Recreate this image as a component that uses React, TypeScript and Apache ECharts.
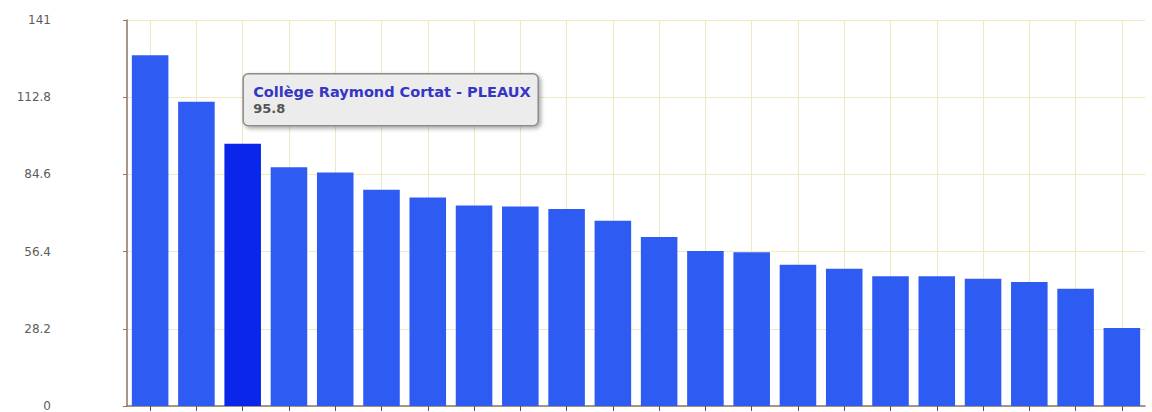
import React, { useEffect, useRef } from "react";
import * as echarts from "echarts";

const categories = [
  "Établissement 1",
  "Établissement 2",
  "Collège Raymond Cortat - PLEAUX",
  "Établissement 4",
  "Établissement 5",
  "Établissement 6",
  "Établissement 7",
  "Établissement 8",
  "Établissement 9",
  "Établissement 10",
  "Établissement 11",
  "Établissement 12",
  "Établissement 13",
  "Établissement 14",
  "Établissement 15",
  "Établissement 16",
  "Établissement 17",
  "Établissement 18",
  "Établissement 19",
  "Établissement 20",
  "Établissement 21",
  "Établissement 22",
];

const values = [
  128.1, 111.1, 95.8, 87.2, 85.3, 79.0, 76.2, 73.2, 72.9, 72.0, 67.7, 61.7,
  56.6, 56.2, 51.6, 50.1, 47.4, 47.4, 46.5, 45.3, 42.8, 28.5,
];

const highlightedIndex = 2;

const yMin = 0;
const yMax = 141;
const yInterval = 28.2;

export default function App() {
  const ref = useRef<HTMLDivElement>(null);

  useEffect(() => {
    if (!ref.current) return;
    const chart = echarts.init(ref.current, null, { renderer: "svg" });
    const axisColor = "#8a7565";
    const gridColor = "#f1e9c0";
    const option: any = {
      animation: false,
      backgroundColor: "#ffffff",
      grid: { left: 127, right: 7, top: 20, bottom: 5, containLabel: false },
      xAxis: {
        type: "category",
        data: categories,
        boundaryGap: true,
        axisLine: { show: true, lineStyle: { color: axisColor, width: 1.5 } },
        axisTick: {
          show: true,
          alignWithLabel: true,
          interval: 0,
          length: 5,
          lineStyle: { color: "#555555" },
        },
        axisLabel: { show: false, interval: 0 },
        splitLine: {
          show: true,
          alignWithLabel: true,
          interval: 0,
          lineStyle: { color: gridColor, width: 1 },
        },
      },
      yAxis: {
        type: "value",
        min: yMin,
        max: yMax,
        interval: yInterval,
        axisLine: { show: true, lineStyle: { color: axisColor, width: 1.5 } },
        axisTick: { show: true, length: 4, lineStyle: { color: "#b0704a" } },
        axisLabel: {
          margin: 76,
          color: "#5c5c5c",
          fontSize: 12,
          fontFamily: "DejaVu Sans",
          formatter: (v: number) => String(+v.toFixed(1)),
        },
        splitLine: { show: true, lineStyle: { color: gridColor, width: 1 } },
      },
      series: [
        {
          type: "bar",
          barCategoryGap: "21%",
          data: values.map((v, i) => ({
            value: v,
            itemStyle: { color: i === highlightedIndex ? "#0a26e8" : "#2e5cf2" },
          })),
        },
      ],
    };
    chart.setOption(option);

    const p = chart.convertToPixel({ gridIndex: 0 }, [
      highlightedIndex,
      values[highlightedIndex],
    ]) as number[];
    const bx = p[0] + 0.5;
    const by = p[1] - 70;
    chart.setOption({
      graphic: [
        {
          type: "group",
          x: bx,
          y: by,
          children: [
            {
              type: "rect",
              shape: { x: 0, y: 0, width: 295, height: 52, r: 5 },
              style: {
                fill: "#ececec",
                stroke: "#8c8c8c",
                lineWidth: 1.5,
                shadowColor: "rgba(0,0,0,0.35)",
                shadowBlur: 4,
                shadowOffsetX: 2,
                shadowOffsetY: 2,
              },
            },
            {
              type: "text",
              x: 10,
              y: 18,
              style: {
                text: categories[highlightedIndex],
                fill: "#3636c4",
                font: "bold 14.5px 'DejaVu Sans'",
                textVerticalAlign: "middle",
              },
            },
            {
              type: "text",
              x: 10,
              y: 35,
              style: {
                text: String(values[highlightedIndex]),
                fill: "#555555",
                font: "bold 13px 'DejaVu Sans'",
                textVerticalAlign: "middle",
              },
            },
          ],
        },
      ],
    });

    return () => chart.dispose();
  }, []);

  return <div ref={ref} style={{ width: 1152, height: 412, position: "absolute", left: 0, top: 0 }} />;
}
